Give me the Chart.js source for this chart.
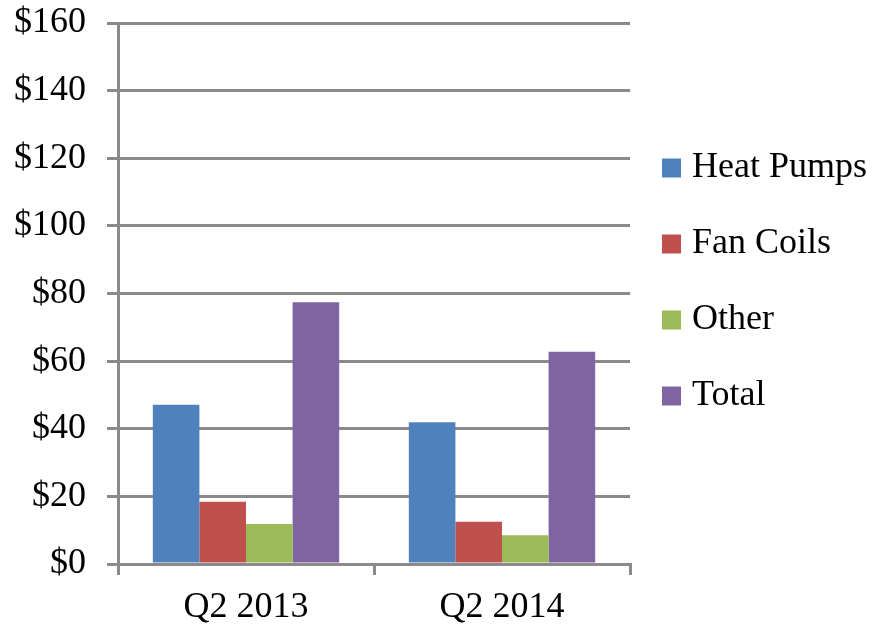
<!DOCTYPE html>
<html lang="en">
<head>
<meta charset="utf-8">
<title>Heat Pumps / Fan Coils</title>
<script src="https://cdn.jsdelivr.net/npm/chart.js@4/dist/chart.umd.min.js"></script>
<style>
    html, body { margin: 0; padding: 0; background: #ffffff; }
    #grafico { display: block; }
</style>
</head>
<body>
<canvas id="grafico" width="873" height="626"></canvas>
<script>
'use strict';

// Datos (millones de dolares)
const CATEGORIAS = ['Q2 2013', 'Q2 2014'];
const SERIES = ['Heat Pumps', 'Fan Coils', 'Other', 'Total'];
const HEAT_PUMPS = [47.1, 41.9];
const FAN_COILS = [18.4, 12.5];
const OTHER = [11.8, 8.5];
const TOTAL = [77.4, 62.8];
const EJE_Y_MIN = 0;
const EJE_Y_MAX = 160;
const EJE_Y_PASO = 20;

const COLORES = ['#4f81bd', '#c0504d', '#9bbb59', '#8064a2'];
const GRIS = '#8a8a8a';
const FUENTE = "'Liberation Serif', 'Times New Roman', serif";

/**
 * Leyenda a la derecha, dibujada a mano para respetar la separacion original.
 */
const leyendaLateral = {
    id: 'leyendaLateral',
    afterDraw(chart) {
        const ctx = chart.ctx;
        const area = chart.chartArea;
        const centro = (area.top + area.bottom) / 2 - 11.5;
        const x = area.right + 32;

        ctx.save();
        ctx.font = '36px ' + FUENTE;
        ctx.textBaseline = 'middle';
        ctx.textAlign = 'left';
        chart.data.datasets.forEach(function (ds, i) {
            const y = centro + (i - 1.5) * 76;
            ctx.fillStyle = ds.backgroundColor;
            ctx.fillRect(x, y - 9.5, 19, 19);
            ctx.fillStyle = '#000000';
            ctx.fillText(ds.label, x + 30, y);
        });
        ctx.restore();
    }
};

function crearGrafico() {
    const canvas = document.getElementById('grafico');
    const valores = [HEAT_PUMPS, FAN_COILS, OTHER, TOTAL];

    new Chart(canvas, {
        type: 'bar',
        data: {
            labels: CATEGORIAS,
            datasets: SERIES.map(function (nombre, i) {
                return {
                    label: nombre,
                    data: valores[i],
                    backgroundColor: COLORES[i],
                    borderWidth: 0,
                    categoryPercentage: 0.728,
                    barPercentage: 1.0
                };
            })
        },
        options: {
            responsive: false,
            animation: false,
            layout: {
                padding: { left: 13, right: 243, top: 23, bottom: 0 }
            },
            plugins: {
                legend: { display: false },
                tooltip: { enabled: false }
            },
            scales: {
                x: {
                    afterFit: function (eje) { eje.height = 62; },
                    grid: {
                        drawOnChartArea: false,
                        color: GRIS,
                        lineWidth: 3,
                        tickLength: 11
                    },
                    border: { display: true, color: GRIS, width: 3 },
                    ticks: {
                        color: '#000000',
                        padding: 15,
                        font: { family: FUENTE, size: 36, lineHeight: 1 }
                    }
                },
                y: {
                    min: EJE_Y_MIN,
                    max: EJE_Y_MAX,
                    afterFit: function (eje) {
                        eje.width = 105;
                        eje.paddingTop = 0;
                        eje.paddingBottom = 0;
                    },
                    grid: {
                        color: GRIS,
                        lineWidth: 3,
                        tickLength: 11
                    },
                    border: { display: true, color: GRIS, width: 3 },
                    ticks: {
                        stepSize: EJE_Y_PASO,
                        color: '#000000',
                        padding: 21,
                        font: { family: FUENTE, size: 36, lineHeight: 1 },
                        callback: function (valor) { return '$' + valor; }
                    }
                }
            }
        },
        plugins: [leyendaLateral]
    });
}

crearGrafico();
</script>
</body>
</html>
